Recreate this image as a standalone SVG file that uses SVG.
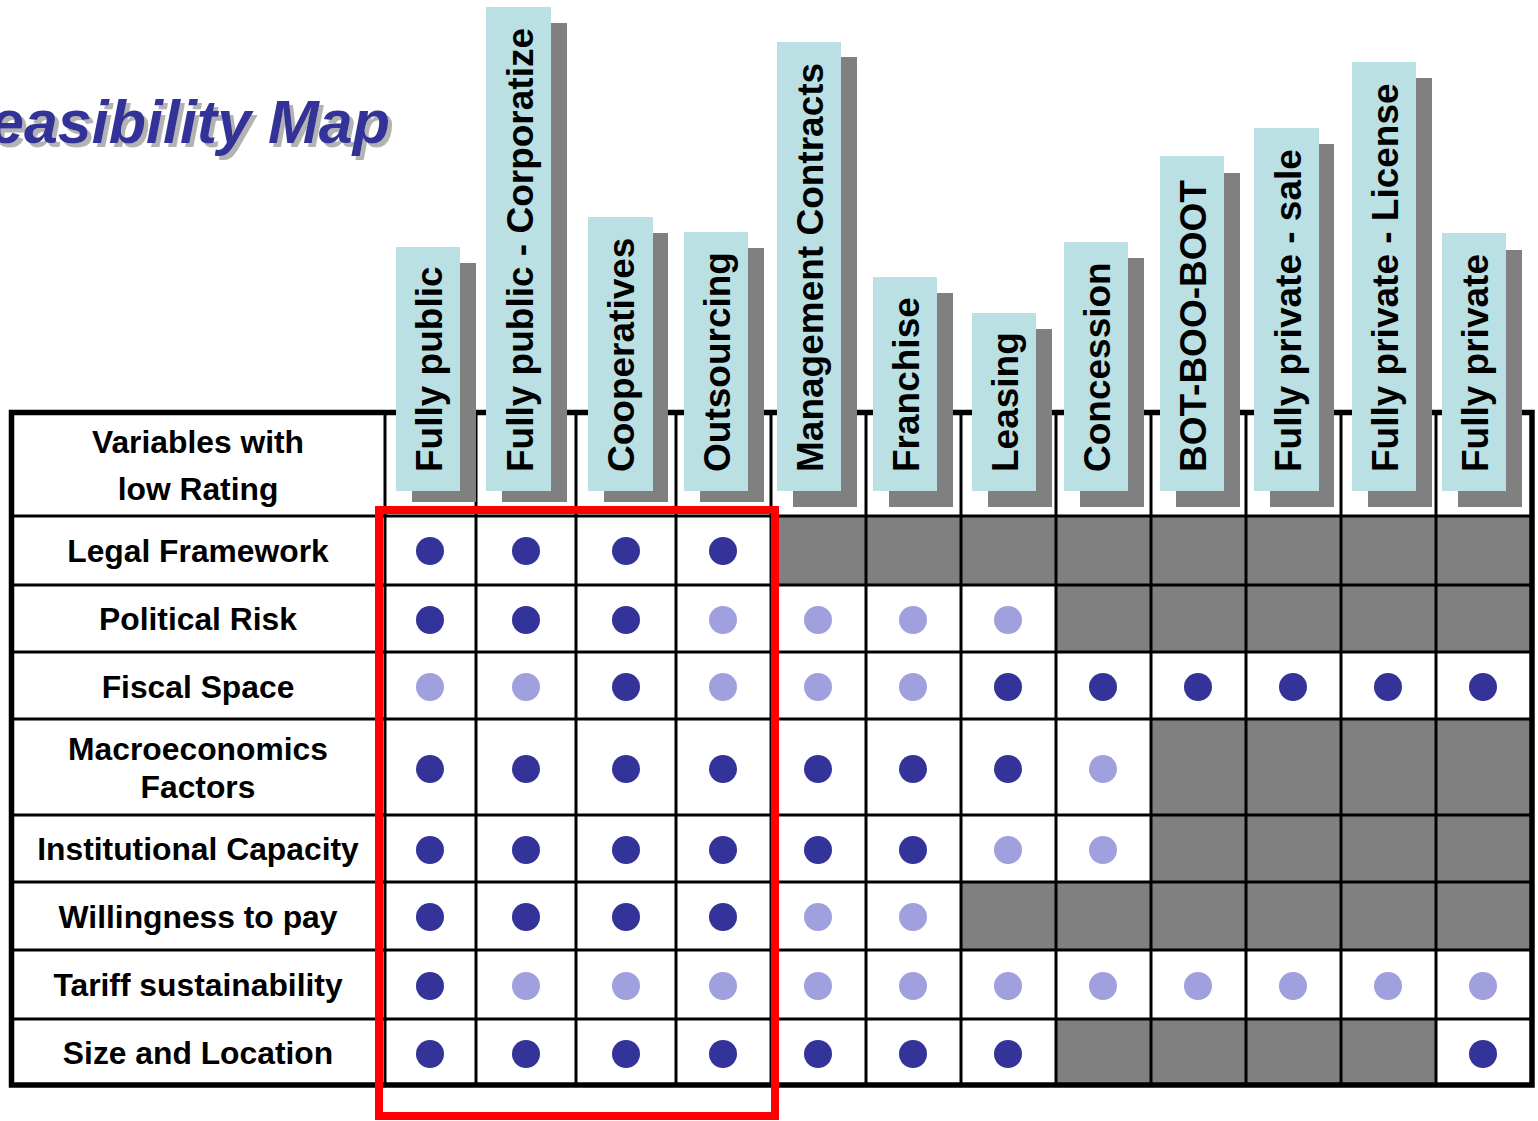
<svg xmlns="http://www.w3.org/2000/svg" width="1538" height="1121" viewBox="0 0 1538 1121">
<style>
.bg{fill:#ffffff}
.gc{fill:#808080}
.ln{stroke:#000;stroke-width:3;fill:none}
.bd{stroke:#000;stroke-width:5.5;fill:none}
.d{fill:#333399}
.l{fill:#A0A0DF}
.sh{fill:#808080}
.bx{fill:#BBE0E3}
.ht{font-family:"Liberation Sans",Arial,sans-serif;font-weight:bold;font-size:37px;fill:#000}
.rl{font-family:"Liberation Sans",Arial,sans-serif;font-weight:bold;font-size:31.8px;fill:#000;text-anchor:middle}
.tt{font-family:"Liberation Sans",Arial,sans-serif;font-weight:bold;font-style:italic;font-size:61px;fill:#333399}
.red{fill:none;stroke:#FF0000;stroke-width:8}
</style>
<defs>
<filter id="tshadow" x="-10%" y="-30%" width="120%" height="170%">
<feOffset in="SourceAlpha" dx="3.5" dy="3.5" result="off"/>
<feFlood flood-color="#B3B3B3"/>
<feComposite in2="off" operator="in" result="shadow"/>
<feMerge><feMergeNode in="shadow"/><feMergeNode in="SourceGraphic"/></feMerge>
</filter>
</defs>
<rect class="bg" x="0" y="0" width="1538" height="1121"/>

<g id="title">
<text class="tt" x="-10" y="143" filter="url(#tshadow)">easibility Map</text>
</g>

<g id="gray-cells">
<rect class="gc" x="771" y="516" width="761" height="69"/>
<rect class="gc" x="1056" y="585" width="476" height="67"/>
<rect class="gc" x="1151" y="719" width="381" height="96"/>
<rect class="gc" x="1151" y="815" width="381" height="67"/>
<rect class="gc" x="961" y="882" width="571" height="68"/>
<rect class="gc" x="1056" y="1019" width="380" height="66"/>
</g>

<g id="connectors">
<path class="ln" d="M11 516H1532M11 585H1532M11 652H1532M11 719H1532M11 815H1532M11 882H1532M11 950H1532M11 1019H1532"/>
<path class="ln" d="M385 412V1085M476 412V1085M576 412V1085M676 412V1085M771 412V1085M866 412V1085M961 412V1085M1056 412V1085M1151 412V1085M1246 412V1085M1341 412V1085M1436 412V1085"/>
<rect class="bd" x="11.5" y="412.5" width="1520.5" height="672.5"/>
</g>

<g id="row-labels">
<text class="rl" x="198" y="453">Variables with</text>
<text class="rl" x="198" y="500">low Rating</text>
<text class="rl" x="198" y="562">Legal Framework</text>
<text class="rl" x="198" y="630">Political Risk</text>
<text class="rl" x="198" y="698">Fiscal Space</text>
<text class="rl" x="198" y="760">Macroeconomics</text>
<text class="rl" x="198" y="798">Factors</text>
<text class="rl" x="198" y="860">Institutional Capacity</text>
<text class="rl" x="198" y="928">Willingness to pay</text>
<text class="rl" x="198" y="996">Tariff sustainability</text>
<text class="rl" x="198" y="1064">Size and Location</text>
</g>

<g id="ratings">
<circle class="d" cx="430" cy="551" r="14"/><circle class="d" cx="526" cy="551" r="14"/><circle class="d" cx="626" cy="551" r="14"/><circle class="d" cx="723" cy="551" r="14"/>

<circle class="d" cx="430" cy="620" r="14"/><circle class="d" cx="526" cy="620" r="14"/><circle class="d" cx="626" cy="620" r="14"/><circle class="l" cx="723" cy="620" r="14"/><circle class="l" cx="818" cy="620" r="14"/><circle class="l" cx="913" cy="620" r="14"/><circle class="l" cx="1008" cy="620" r="14"/>

<circle class="l" cx="430" cy="687" r="14"/><circle class="l" cx="526" cy="687" r="14"/><circle class="d" cx="626" cy="687" r="14"/><circle class="l" cx="723" cy="687" r="14"/><circle class="l" cx="818" cy="687" r="14"/><circle class="l" cx="913" cy="687" r="14"/><circle class="d" cx="1008" cy="687" r="14"/><circle class="d" cx="1103" cy="687" r="14"/><circle class="d" cx="1198" cy="687" r="14"/><circle class="d" cx="1293" cy="687" r="14"/><circle class="d" cx="1388" cy="687" r="14"/><circle class="d" cx="1483" cy="687" r="14"/>

<circle class="d" cx="430" cy="769" r="14"/><circle class="d" cx="526" cy="769" r="14"/><circle class="d" cx="626" cy="769" r="14"/><circle class="d" cx="723" cy="769" r="14"/><circle class="d" cx="818" cy="769" r="14"/><circle class="d" cx="913" cy="769" r="14"/><circle class="d" cx="1008" cy="769" r="14"/><circle class="l" cx="1103" cy="769" r="14"/>

<circle class="d" cx="430" cy="850" r="14"/><circle class="d" cx="526" cy="850" r="14"/><circle class="d" cx="626" cy="850" r="14"/><circle class="d" cx="723" cy="850" r="14"/><circle class="d" cx="818" cy="850" r="14"/><circle class="d" cx="913" cy="850" r="14"/><circle class="l" cx="1008" cy="850" r="14"/><circle class="l" cx="1103" cy="850" r="14"/>

<circle class="d" cx="430" cy="917" r="14"/><circle class="d" cx="526" cy="917" r="14"/><circle class="d" cx="626" cy="917" r="14"/><circle class="d" cx="723" cy="917" r="14"/><circle class="l" cx="818" cy="917" r="14"/><circle class="l" cx="913" cy="917" r="14"/>

<circle class="d" cx="430" cy="986" r="14"/><circle class="l" cx="526" cy="986" r="14"/><circle class="l" cx="626" cy="986" r="14"/><circle class="l" cx="723" cy="986" r="14"/><circle class="l" cx="818" cy="986" r="14"/><circle class="l" cx="913" cy="986" r="14"/><circle class="l" cx="1008" cy="986" r="14"/><circle class="l" cx="1103" cy="986" r="14"/><circle class="l" cx="1198" cy="986" r="14"/><circle class="l" cx="1293" cy="986" r="14"/><circle class="l" cx="1388" cy="986" r="14"/><circle class="l" cx="1483" cy="986" r="14"/>

<circle class="d" cx="430" cy="1054" r="14"/><circle class="d" cx="526" cy="1054" r="14"/><circle class="d" cx="626" cy="1054" r="14"/><circle class="d" cx="723" cy="1054" r="14"/><circle class="d" cx="818" cy="1054" r="14"/><circle class="d" cx="913" cy="1054" r="14"/><circle class="d" cx="1008" cy="1054" r="14"/><circle class="d" cx="1483" cy="1054" r="14"/>
</g>

<g id="col-fully-public">
<rect class="sh" x="412" y="263" width="64" height="239"/>
<rect class="bx" x="396" y="247" width="64" height="244"/>
<text class="ht" transform="translate(442 472) rotate(-90)">Fully public</text>
</g>
<g id="col-fully-public-corporatize">
<rect class="sh" x="502" y="23" width="65" height="479"/>
<rect class="bx" x="486" y="7" width="65" height="484"/>
<text class="ht" transform="translate(533 472) rotate(-90)">Fully public - Corporatize</text>
</g>
<g id="col-cooperatives">
<rect class="sh" x="604" y="233" width="64" height="269"/>
<rect class="bx" x="588" y="217" width="65" height="274"/>
<text class="ht" transform="translate(634 472) rotate(-90)">Cooperatives</text>
</g>
<g id="col-outsourcing">
<rect class="sh" x="700" y="248" width="64" height="254"/>
<rect class="bx" x="684" y="232" width="64" height="259"/>
<text class="ht" transform="translate(730 472) rotate(-90)">Outsourcing</text>
</g>
<g id="col-management-contracts">
<rect class="sh" x="793" y="57" width="64" height="450"/>
<rect class="bx" x="777" y="42" width="64" height="449"/>
<text class="ht" transform="translate(823 472) rotate(-90)">Management Contracts</text>
</g>
<g id="col-franchise">
<rect class="sh" x="889" y="293" width="64" height="214"/>
<rect class="bx" x="873" y="277" width="64" height="214"/>
<text class="ht" transform="translate(919 472) rotate(-90)">Franchise</text>
</g>
<g id="col-leasing">
<rect class="sh" x="988" y="329" width="64" height="178"/>
<rect class="bx" x="972" y="313" width="64" height="178"/>
<text class="ht" transform="translate(1018 472) rotate(-90)">Leasing</text>
</g>
<g id="col-concession">
<rect class="sh" x="1080" y="258" width="64" height="249"/>
<rect class="bx" x="1064" y="242" width="64" height="249"/>
<text class="ht" transform="translate(1110 472) rotate(-90)">Concession</text>
</g>
<g id="col-bot-boo-boot">
<rect class="sh" x="1176" y="173" width="64" height="334"/>
<rect class="bx" x="1160" y="156" width="64" height="335"/>
<text class="ht" transform="translate(1206 472) rotate(-90)">BOT-BOO-BOOT</text>
</g>
<g id="col-fully-private-sale">
<rect class="sh" x="1270" y="144" width="64" height="363"/>
<rect class="bx" x="1254" y="128" width="65" height="363"/>
<text class="ht" transform="translate(1301 472) rotate(-90)">Fully private - sale</text>
</g>
<g id="col-fully-private-license">
<rect class="sh" x="1368" y="78" width="64" height="429"/>
<rect class="bx" x="1352" y="62" width="64" height="429"/>
<text class="ht" transform="translate(1398 472) rotate(-90)">Fully private - License</text>
</g>
<g id="col-fully-private">
<rect class="sh" x="1458" y="250" width="64" height="257"/>
<rect class="bx" x="1442" y="233" width="64" height="258"/>
<text class="ht" transform="translate(1488 472) rotate(-90)">Fully private</text>
</g>

<g id="highlight">
<rect class="red" x="379" y="510" width="396" height="606"/>
</g>
</svg>
